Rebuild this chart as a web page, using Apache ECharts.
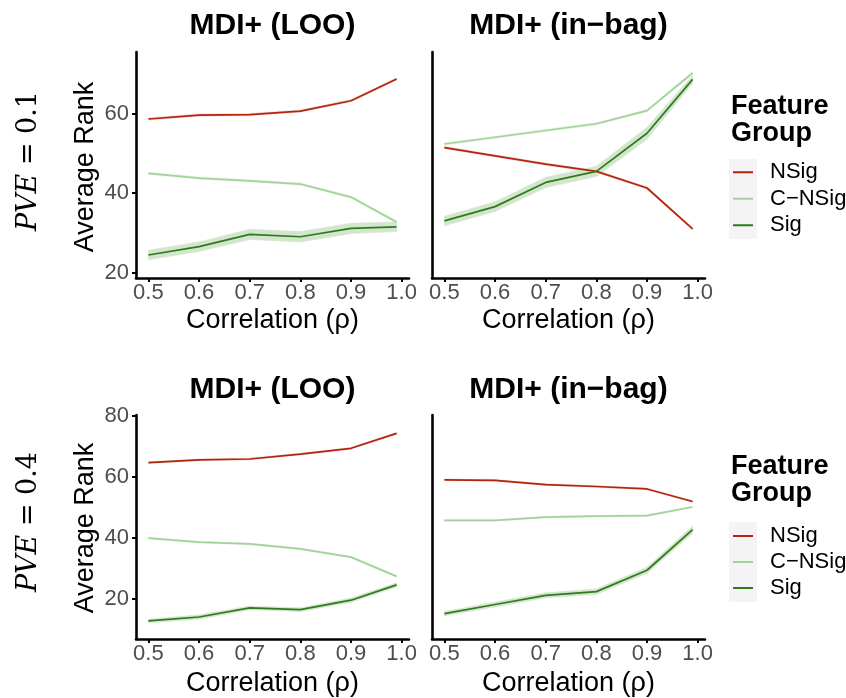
<!DOCTYPE html>
<html>
<head>
<meta charset="utf-8">
<script src="https://cdn.jsdelivr.net/npm/echarts@6/dist/echarts.min.js"></script>
<style>
  html, body { margin: 0; padding: 0; background: #ffffff; }
  #chart { width: 846px; height: 698px; }
</style>
</head>
<body>
<div id="chart"></div>
<script>
// ---- data ----
const rho = [0.5, 0.6, 0.7, 0.8, 0.9, 0.99];
const xTickValues = [0.5, 0.6, 0.7, 0.8, 0.9, 1.0];
const yTicksTop = [20, 40, 60];
const yTicksBottom = [20, 40, 60, 80];
const groups = ['NSig', 'C\u2212NSig', 'Sig'];
const panelTitles = ['MDI+ (LOO)', 'MDI+ (in\u2212bag)'];
const rowLabels = ['0.1', '0.4'];

// PVE = 0.1, MDI+ (LOO)
const pve01_loo_NSig  = [58.7, 59.7, 59.8, 60.7, 63.3, 68.8];
const pve01_loo_CNSig = [45.0, 43.8, 43.1, 42.3, 39.0, 32.7];
const pve01_loo_Sig   = [24.4, 26.5, 29.6, 29.0, 31.1, 31.5];
const pve01_loo_NSig_se  = [0.3, 0.3, 0.3, 0.3, 0.3, 0.3];
const pve01_loo_CNSig_se = [0.3, 0.3, 0.3, 0.3, 0.3, 0.4];
const pve01_loo_Sig_se   = [1.2, 1.2, 1.3, 1.3, 1.3, 1.2];

// PVE = 0.1, MDI+ (in-bag)
const pve01_inbag_NSig  = [51.5, 49.4, 47.3, 45.5, 41.3, 31.0];
const pve01_inbag_CNSig = [52.4, 54.1, 55.8, 57.5, 60.8, 70.3];
const pve01_inbag_Sig   = [33.0, 36.6, 42.7, 45.5, 55.1, 68.7];
const pve01_inbag_NSig_se  = [0.3, 0.3, 0.3, 0.3, 0.3, 0.3];
const pve01_inbag_CNSig_se = [0.3, 0.3, 0.3, 0.3, 0.3, 0.4];
const pve01_inbag_Sig_se   = [1.2, 1.2, 1.3, 1.3, 1.5, 1.0];

// PVE = 0.4, MDI+ (LOO)
const pve04_loo_NSig  = [64.6, 65.5, 65.8, 67.4, 69.3, 74.2];
const pve04_loo_CNSig = [39.9, 38.6, 38.0, 36.4, 33.7, 27.4];
const pve04_loo_Sig   = [12.8, 14.1, 17.1, 16.5, 19.6, 24.6];
const pve04_loo_NSig_se  = [0.3, 0.3, 0.3, 0.3, 0.3, 0.3];
const pve04_loo_CNSig_se = [0.3, 0.3, 0.3, 0.3, 0.3, 0.3];
const pve04_loo_Sig_se   = [0.6, 0.7, 0.6, 0.6, 0.7, 0.7];

// PVE = 0.4, MDI+ (in-bag)
const pve04_inbag_NSig  = [59.0, 58.8, 57.4, 56.8, 56.0, 51.9];
const pve04_inbag_CNSig = [45.7, 45.7, 46.8, 47.1, 47.3, 50.1];
const pve04_inbag_Sig   = [15.2, 18.2, 21.2, 22.4, 29.4, 42.7];
const pve04_inbag_NSig_se  = [0.3, 0.3, 0.3, 0.3, 0.3, 0.3];
const pve04_inbag_CNSig_se = [0.3, 0.3, 0.3, 0.3, 0.3, 0.3];
const pve04_inbag_Sig_se   = [0.7, 0.8, 0.8, 0.9, 1.0, 1.2];

// ---- styling ----
const SANS = '"Liberation Sans", Arial, Helvetica, sans-serif';
const SERIF = '"DejaVu Serif", serif';
const lineColors = ['#B2240B', '#A1D499', '#2E7B1E'];
const ribbonColors = ['#F2D8D3', '#E6F3E3', '#D3E5CC'];

const panels = [
  { grid: { left: 136, top: 52, width: 273, height: 226 }, yMin: 18.6, yMax: 75.6, yTicks: yTicksTop, showY: true,
    mean: [pve01_loo_NSig, pve01_loo_CNSig, pve01_loo_Sig], se: [pve01_loo_NSig_se, pve01_loo_CNSig_se, pve01_loo_Sig_se] },
  { grid: { left: 432, top: 52, width: 273, height: 226 }, yMin: 18.6, yMax: 75.6, yTicks: yTicksTop, showY: false,
    mean: [pve01_inbag_NSig, pve01_inbag_CNSig, pve01_inbag_Sig], se: [pve01_inbag_NSig_se, pve01_inbag_CNSig_se, pve01_inbag_Sig_se] },
  { grid: { left: 136, top: 415, width: 273, height: 224 }, yMin: 6.9, yMax: 80.2, yTicks: yTicksBottom, showY: true,
    mean: [pve04_loo_NSig, pve04_loo_CNSig, pve04_loo_Sig], se: [pve04_loo_NSig_se, pve04_loo_CNSig_se, pve04_loo_Sig_se] },
  { grid: { left: 432, top: 415, width: 273, height: 224 }, yMin: 6.9, yMax: 80.2, yTicks: yTicksBottom, showY: false,
    mean: [pve04_inbag_NSig, pve04_inbag_CNSig, pve04_inbag_Sig], se: [pve04_inbag_NSig_se, pve04_inbag_CNSig_se, pve04_inbag_Sig_se] }
];

function ribbonRenderer(color) {
  return function (params, api) {
    const a = api.coord([api.value(0), api.value(1)]);
    const b = api.coord([api.value(0), api.value(2)]);
    const c = api.coord([api.value(3), api.value(5)]);
    const d = api.coord([api.value(3), api.value(4)]);
    return {
      type: 'polygon',
      shape: { points: [a, b, c, d] },
      style: { fill: color, stroke: color, lineWidth: 0.6 }
    };
  };
}

const grids = [], xAxes = [], yAxes = [], series = [];
panels.forEach((p, i) => {
  grids.push(Object.assign({ show: false }, p.grid));
  xAxes.push({
    type: 'value', gridIndex: i, min: 0.4755, max: 1.0145,
    axisLine: { show: true, onZero: false, lineStyle: { color: '#000', width: 2.6 } },
    axisTick: { show: true, length: 4, lineStyle: { color: '#000', width: 2 }, customValues: xTickValues },
    axisLabel: { show: true, customValues: xTickValues, formatter: v => Number(v).toFixed(1),
      fontSize: 22, color: '#4d4d4d', fontFamily: SANS, margin: 4 },
    splitLine: { show: false }
  });
  yAxes.push({
    type: 'value', gridIndex: i, min: p.yMin, max: p.yMax,
    axisLine: { show: true, onZero: false, lineStyle: { color: '#000', width: 2.6 } },
    axisTick: { show: p.showY, length: 4, lineStyle: { color: '#000', width: 2 }, customValues: p.yTicks },
    axisLabel: { show: p.showY, customValues: p.yTicks, fontSize: 22, color: '#4d4d4d', fontFamily: SANS, margin: 7 },
    splitLine: { show: false }
  });
  // ribbons (mean ± se), one quadrilateral per segment between neighbouring rho values
  groups.forEach((g, k) => {
    const segs = [];
    for (let j = 0; j < rho.length - 1; j++) {
      const m = p.mean[k], s = p.se[k];
      segs.push([rho[j], m[j] - s[j], m[j] + s[j], rho[j + 1], m[j + 1] - s[j + 1], m[j + 1] + s[j + 1]]);
    }
    series.push({
      type: 'custom', name: 'ribbon', xAxisIndex: i, yAxisIndex: i, silent: true, clip: true, z: 1,
      encode: { x: [0, 3], y: [1, 2, 4, 5] },
      renderItem: ribbonRenderer(ribbonColors[k]),
      data: segs
    });
  });
  // lines
  groups.forEach((g, k) => {
    series.push({
      type: 'line', name: g, xAxisIndex: i, yAxisIndex: i, symbol: 'none', z: 3,
      itemStyle: { color: lineColors[k] },
      lineStyle: { color: lineColors[k], width: 1.7 },
      data: rho.map((x, j) => [x, p.mean[k][j]])
    });
  });
});

function legendAt(top, lh) {
  return {
    orient: 'vertical', left: 733, top: top, padding: 0, itemGap: 0, z: 5,
    icon: 'rect', itemWidth: 20, itemHeight: 2, selectedMode: false,
    data: groups,
    textStyle: { fontSize: 22, fontFamily: SANS, color: '#000', lineHeight: lh, padding: [0, 0, 0, 12] }
  };
}

const graphic = [];
function addText(x, y, text, opts) {
  graphic.push(Object.assign({
    type: 'text', x: x, y: y, z: 10,
    style: Object.assign({ text: text, textAlign: 'center', textVerticalAlign: 'middle', align: 'center', verticalAlign: 'middle',
      fill: '#000', fontFamily: SANS }, opts.style)
  }, opts.el || {}));
}
// facet titles
[[272.5, 26], [568.5, 26], [272.5, 390], [568.5, 390]].forEach((pos, i) => {
  addText(pos[0], pos[1], panelTitles[i % 2], { style: { fontSize: 30, fontWeight: 'bold' } });
});
// x axis titles
[[272.5, 321], [568.5, 321], [272.5, 684], [568.5, 684]].forEach(pos => {
  addText(pos[0], pos[1], 'Correlation (\u03c1)', { style: { fontSize: 27 } });
});
// y axis titles
[[86, 167], [86, 528]].forEach(pos => {
  addText(pos[0], pos[1], 'Average Rank', { style: { fontSize: 27 }, el: { rotation: Math.PI / 2 } });
});
// row labels
[[29, 161], [29, 522]].forEach((pos, i) => {
  addText(pos[0], pos[1], '{a|PVE} {b|=} {b|' + rowLabels[i] + '}', {
    style: { fontSize: 27, fontFamily: SERIF,
      rich: { a: { fontSize: 27, fontFamily: SERIF, fontStyle: 'italic' }, b: { fontSize: 27, fontFamily: SERIF } } },
    el: { rotation: Math.PI / 2 }
  });
});
// legend titles
[[106.5, 133.2], [466.7, 493.5]].forEach(ys => {
  graphic.push({ type: 'text', x: 731, y: ys[0], z: 10, style: { text: 'Feature', fontSize: 27, fontWeight: 'bold', fontFamily: SANS, fill: '#000', textVerticalAlign: 'middle', verticalAlign: 'middle' } });
  graphic.push({ type: 'text', x: 731, y: ys[1], z: 10, style: { text: 'Group', fontSize: 27, fontWeight: 'bold', fontFamily: SANS, fill: '#000', textVerticalAlign: 'middle', verticalAlign: 'middle' } });
});
// legend key backgrounds
graphic.push({ type: 'rect', z: 0, shape: { x: 729, y: 159, width: 28, height: 80 }, style: { fill: '#f4f4f4' } });
graphic.push({ type: 'rect', z: 0, shape: { x: 729, y: 522, width: 28, height: 80 }, style: { fill: '#f4f4f4' } });

const chart = echarts.init(document.getElementById('chart'), null, { renderer: 'canvas' });
chart.setOption({
  animation: false,
  backgroundColor: '#ffffff',
  grid: grids,
  xAxis: xAxes,
  yAxis: yAxes,
  legend: [legendAt(159, 26.5), legendAt(523, 26)],
  graphic: graphic,
  series: series
});
</script>
</body>
</html>
